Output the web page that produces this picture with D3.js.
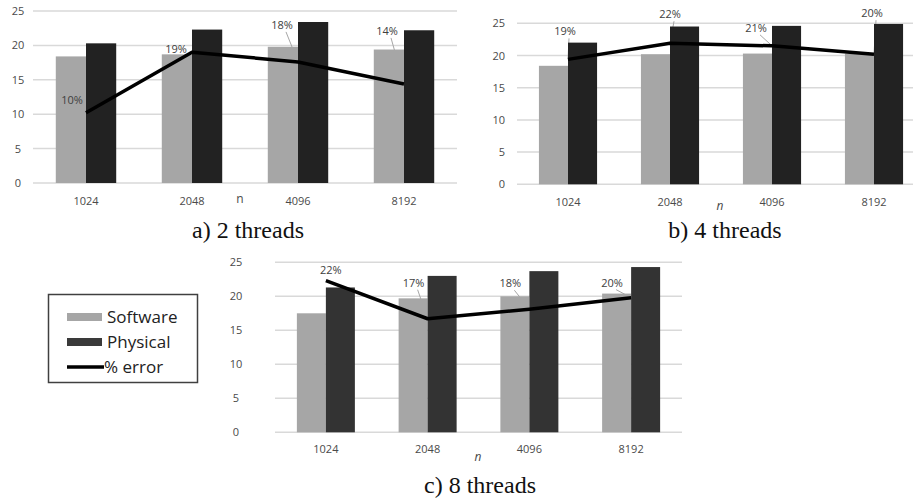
<!DOCTYPE html>
<html>
<head>
<meta charset="utf-8">
<script src="https://cdn.jsdelivr.net/npm/d3@7"></script>
<style>
  body { margin: 0; background: #fff; }
  svg { display: block; }
  .caption { font-family: "Liberation Serif", "DejaVu Serif", serif; font-size: 24px; fill: #111; }
</style>
</head>
<body>
<svg id="chart" width="913" height="499"></svg>
<script>
const categories = ["1024", "2048", "4096", "8192"];
const yTicks = [0, 5, 10, 15, 20, 25];

// 2 threads
const software2 = [18.4, 18.7, 19.8, 19.4];
const physical2 = [20.3, 22.3, 23.4, 22.2];
const error2 = [10.2, 19.0, 17.6, 14.4];
const errorLabels2 = ["10%", "19%", "18%", "14%"];

// 4 threads
const software4 = [18.4, 20.2, 20.3, 20.3];
const physical4 = [22.0, 24.5, 24.6, 24.9];
const error4 = [19.4, 21.9, 21.5, 20.2];
const errorLabels4 = ["19%", "22%", "21%", "20%"];

// 8 threads
const software8 = [17.5, 19.7, 20.0, 20.4];
const physical8 = [21.3, 23.0, 23.7, 24.3];
const error8 = [22.3, 16.7, 18.1, 19.8];
const errorLabels8 = ["22%", "17%", "18%", "20%"];

const svg = d3.select("#chart");

const panels = [
  {
    software: software2, physical: physical2, error: error2, labels: errorLabels2,
    left: 33, right: 457, top: 11, bottom: 183,
    tickX: 18, tickAnchor: "middle", xLabelY: 205,
    nX: 240, nY: 203, nItalic: false, physColor: "#222",
    labelOffsets: [[-14, -13], [-16, -3], [-16, -37], [-17, -53]],
    leaders: [false, false, true, true],
    caption: "a) 2 threads", capX: 248, capY: 238
  },
  {
    software: software4, physical: physical4, error: error4, labels: errorLabels4,
    left: 517, right: 925, top: 23.3, bottom: 184.3,
    tickX: 505, tickAnchor: "end", xLabelY: 205.5,
    nX: 720, nY: 210, nItalic: true, physColor: "#222",
    labelOffsets: [[-3, -28], [0, -29], [-16, -18], [-2, -41]],
    leaders: [true, true, true, true],
    caption: "b) 4 threads", capX: 725, capY: 238
  },
  {
    software: software8, physical: physical8, error: error8, labels: errorLabels8,
    left: 275, right: 682, top: 262.3, bottom: 432.3,
    tickX: 236, tickAnchor: "middle", xLabelY: 453,
    nX: 478, nY: 461, nItalic: true, physColor: "#333",
    labelOffsets: [[5, -11], [-14, -36], [-19, -26], [-19, -15]],
    leaders: [false, true, true, true],
    caption: "c) 8 threads", capX: 480, capY: 493
  }
];

function drawPanel(p) {
  const g = svg.append("g");

  const x = d3.scaleBand()
    .domain(categories)
    .range([p.left, p.right])
    .paddingInner(0.43)
    .paddingOuter(0.215);

  const xSeries = d3.scaleBand()
    .domain(["software", "physical"])
    .range([0, x.bandwidth()]);

  const y = d3.scaleLinear()
    .domain([0, 25])
    .range([p.bottom, p.top]);

  // gridlines
  g.selectAll(".grid")
    .data(yTicks)
    .join("line")
    .attr("x1", p.left)
    .attr("x2", p.right)
    .attr("y1", d => y(d))
    .attr("y2", d => y(d))
    .attr("stroke", "#d9d9d9")
    .attr("stroke-width", 1.5);

  // y tick labels
  g.selectAll(".ytick")
    .data(yTicks)
    .join("text")
    .attr("x", p.tickX)
    .attr("y", d => y(d) + 4)
    .attr("text-anchor", p.tickAnchor)
    .style("font-family", "'Open Sans', sans-serif")
    .style("font-size", "11px")
    .style("fill", "#4a4a4a")
    .text(d => d);

  // x tick labels
  g.selectAll(".xtick")
    .data(categories)
    .join("text")
    .attr("x", d => x(d) + x.bandwidth() / 2)
    .attr("y", p.xLabelY)
    .attr("text-anchor", "middle")
    .style("font-family", "'Open Sans', sans-serif")
    .style("font-size", "11px")
    .style("fill", "#4a4a4a")
    .text(d => d);

  g.append("text")
    .attr("x", p.nX)
    .attr("y", p.nY)
    .attr("text-anchor", "middle")
    .style("font-family", "'Open Sans', sans-serif")
    .style("font-size", "12px")
    .style("font-style", p.nItalic ? "italic" : "normal")
    .style("fill", "#4a4a4a")
    .text("n");

  const cx = i => x(categories[i]) + x.bandwidth() / 2;

  // leader lines (behind the bars)
  g.selectAll(".leader")
    .data(p.error.map((v, i) => i).filter(i => p.leaders[i]))
    .join("line")
    .attr("x1", i => cx(i) + p.labelOffsets[i][0] + 4)
    .attr("y1", i => y(p.error[i]) + p.labelOffsets[i][1] + 7)
    .attr("x2", i => cx(i))
    .attr("y2", i => y(p.error[i]))
    .attr("stroke", "#a6a6a6")
    .attr("stroke-width", 1);

  // bars
  g.selectAll(".sw")
    .data(p.software)
    .join("rect")
    .attr("x", (d, i) => x(categories[i]) + xSeries("software"))
    .attr("y", d => y(d))
    .attr("width", xSeries.bandwidth())
    .attr("height", d => y(0) - y(d))
    .attr("fill", "#a6a6a6");

  g.selectAll(".ph")
    .data(p.physical)
    .join("rect")
    .attr("x", (d, i) => x(categories[i]) + xSeries("physical"))
    .attr("y", d => y(d))
    .attr("width", xSeries.bandwidth())
    .attr("height", d => y(0) - y(d))
    .attr("fill", p.physColor);

  // % error line
  const line = d3.line()
    .x((d, i) => cx(i))
    .y(d => y(d));

  g.append("path")
    .datum(p.error)
    .attr("d", line)
    .attr("fill", "none")
    .attr("stroke", "#000")
    .attr("stroke-width", 3.5)
    .attr("stroke-linejoin", "round");

  // % labels
  g.selectAll(".elabel")
    .data(p.labels)
    .join("text")
    .attr("x", (d, i) => cx(i) + p.labelOffsets[i][0])
    .attr("y", (d, i) => y(p.error[i]) + p.labelOffsets[i][1] + 4)
    .attr("text-anchor", "middle")
    .style("font-family", "'Open Sans', sans-serif")
    .style("font-size", "11px")
    .style("fill", "#404040")
    .text(d => d);

  // caption
  svg.append("text")
    .attr("class", "caption")
    .attr("x", p.capX)
    .attr("y", p.capY)
    .attr("text-anchor", "middle")
    .text(p.caption);
}

panels.forEach(drawPanel);

// legend
const legendItems = [
  { name: "Software", color: "#a6a6a6", type: "rect" },
  { name: "Physical", color: "#3a3a3a", type: "rect" },
  { name: "% error", color: "#000", type: "line" }
];

const legend = svg.append("g");
legend.append("rect")
  .attr("x", 48.5)
  .attr("y", 294.5)
  .attr("width", 149)
  .attr("height", 88)
  .attr("fill", "#fff")
  .attr("stroke", "#404040")
  .attr("stroke-width", 1.5);

const rowY = d3.scalePoint()
  .domain(legendItems.map(d => d.name))
  .range([317, 367]);

legendItems.forEach(item => {
  const cy = rowY(item.name);
  if (item.type === "rect") {
    legend.append("rect")
      .attr("x", 67)
      .attr("y", cy - 4)
      .attr("width", 35)
      .attr("height", 8)
      .attr("fill", item.color);
  } else {
    legend.append("line")
      .attr("x1", 67)
      .attr("x2", 104)
      .attr("y1", cy)
      .attr("y2", cy)
      .attr("stroke", item.color)
      .attr("stroke-width", 3.5);
  }
  legend.append("text")
    .attr("x", item.type === "rect" ? 107 : 104)
    .attr("y", cy + 6)
    .style("font-family", "'Open Sans', sans-serif")
    .style("font-size", "17px")
    .style("fill", "#222")
    .text(item.name);
});
</script>
</body>
</html>
